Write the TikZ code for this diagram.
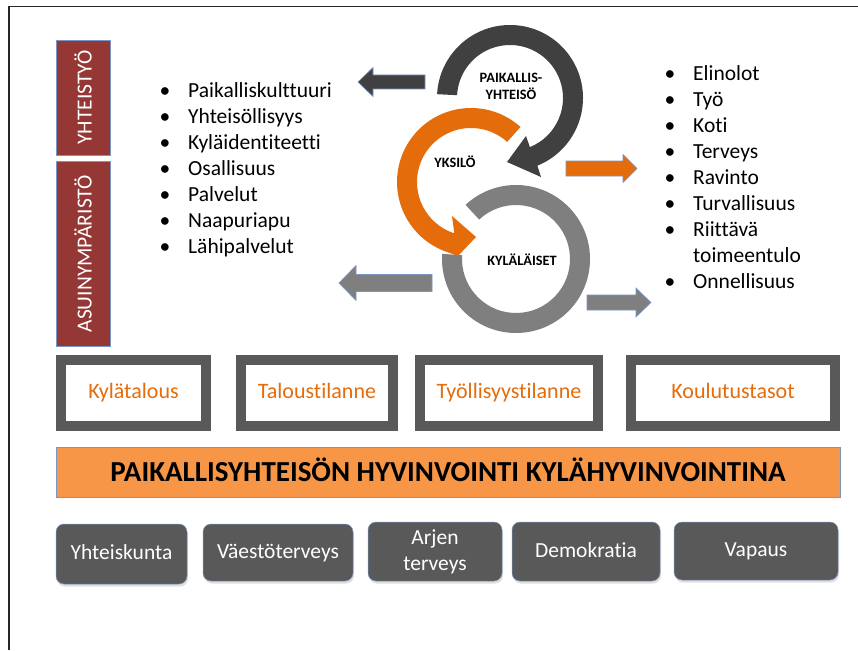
\documentclass[tikz,border=0pt]{standalone}
\usepackage{fontspec}
\setmainfont[Ligatures={NoCommon}]{Carlito}
\usetikzlibrary{shadows}
\definecolor{ringdark}{HTML}{404040}
\definecolor{ringorange}{HTML}{E46C0A}
\definecolor{ringgray}{HTML}{7F7F7F}
\definecolor{boxgray}{HTML}{595959}
\definecolor{barorange}{HTML}{F79646}
\definecolor{barred}{HTML}{953735}
\definecolor{edgeblue}{HTML}{7A96C4}
\begin{document}
\begin{tikzpicture}[x=1pt,y=-1pt,
  listtext/.style={anchor=base west, inner sep=0pt, font=\fontsize{21.5}{26}\selectfont},
  bulletmark/.style={anchor=base, inner sep=0pt, font=\fontsize{21.5}{26}\selectfont},
  redbar/.style={fill=barred, draw=edgeblue, line width=0.6pt, rotate=90, text=white,
    minimum height=54pt, inner sep=0pt, font=\fontsize{21.5}{26}\selectfont},
  framebox/.style={draw=boxgray, line width=10pt, fill=white, minimum height=66pt,
    text=ringorange, inner sep=0pt, text height=15pt, text depth=4pt,
    font=\fontsize{22}{26}\selectfont},
  roundbox/.style={fill=boxgray, draw=edgeblue, line width=0.5pt, rounded corners=8pt,
    text=white, align=center, inner sep=0pt, font=\fontsize{21.5}{26}\selectfont,
    drop shadow={shadow xshift=1pt, shadow yshift=-2.5pt, opacity=0.25}},
  onebox/.style={roundbox, text height=15pt, text depth=4pt},
  ringlabel/.style={font=\bfseries\fontsize{14.3}{17}\selectfont, align=center, inner sep=0pt},
  blockarrow/.style={draw=edgeblue, line width=0.6pt, line join=miter},
]
\useasboundingbox (0,0) rectangle (858,650);
\fill[white] (0,0) rectangle (858,650);

% frame
\draw[line width=1.2pt, black!85] (9,650) -- (9,6.5) -- (858,6.5);

% red bars
\node[redbar, minimum width=115pt] (yhteistyo) at (83,97.5) {YHTEISTYÖ};
\node[redbar, minimum width=185.5pt] (asuin) at (83,253.75) {ASUINYMPÄRISTÖ};

% left list
\foreach \txt [count=\i from 0] in {Paikalliskulttuuri, Yhteisöllisyys, Kyläidentiteetti, Osallisuus, Palvelut, Naapuriapu, Lähipalvelut} {
  \node[bulletmark] (lb\i) at (165, 97.7+26*\i) {•};
  \node[listtext] (lt\i) at (188, 97.7+26*\i) {\txt};
}

% right list
\foreach \txt [count=\i from 0] in {Elinolot, Työ, Koti, Terveys, Ravinto, Turvallisuus, Riittävä} {
  \node[bulletmark] (rb\i) at (670, 80.5+26*\i) {•};
  \node[listtext] (rt\i) at (693, 80.5+26*\i) {\txt};
}
\node[listtext] (rt7) at (693, 262.5) {toimeentulo};
\node[bulletmark] (rb8) at (670, 288.5) {•};
\node[listtext] (rt8) at (693, 288.5) {Onnellisuus};

% block arrows
\draw[blockarrow, fill=ringdark] (425,75) -- (373,75) -- (373,67.5) -- (358,82) -- (373,96.5) -- (373,89) -- (425,89) -- cycle;
\draw[blockarrow, fill=ringorange] (566,161) -- (623,161) -- (623,154.5) -- (637,168.5) -- (623,182.5) -- (623,176) -- (566,176) -- cycle;
\draw[blockarrow, fill=ringgray] (432,274.5) -- (356,274.5) -- (356,265.5) -- (339,283) -- (356,300.5) -- (356,291.5) -- (432,291.5) -- cycle;
\draw[blockarrow, fill=ringgray] (587,295) -- (636,295) -- (636,288) -- (651,302.5) -- (636,317) -- (636,310) -- (587,310) -- cycle;

% rings
\coordinate (G) at (516,259);
\coordinate (O) at (471,182);
\coordinate (D) at (510,98);
\fill[ringgray] ([shift={(G)}]-133:74) arc[start angle=-133, end angle=184, radius=74]
  -- ([shift={(G)}]184:54) arc[start angle=184, end angle=-133, radius=54] -- cycle;
\fill[ringorange] ([shift={(O)}]-48:74) arc[start angle=-48, end angle=-252, radius=74]
  -- (458,256) -- (476,237) -- (452,216) -- ([shift={(O)}]-252:54)
  arc[start angle=-252, end angle=-48, radius=54] -- cycle;
\fill[ringdark] ([shift={(D)}]-177:73) arc[start angle=-177, end angle=68, radius=73]
  -- (541,177) -- (507,162) -- (526,136) -- ([shift={(D)}]68:53)
  arc[start angle=68, end angle=-177, radius=53] -- cycle;

\node[ringlabel] (paik) at (511,86) {PAIKALLIS-\\YHTEISÖ};
\node[ringlabel] (yksilo) at (455,162) {YKSILÖ};
\node[ringlabel] (kylalaiset) at (522,260) {KYLÄLÄISET};

% framed boxes
\node[framebox, minimum width=145pt] (kylatalous) at (133.5,393) {Kylätalous};
\node[framebox, minimum width=151.5pt] (talous) at (317,393) {Taloustilanne};
\node[framebox, minimum width=178pt] (tyollisyys) at (509,393) {Työllisyystilanne};
\node[framebox, minimum width=204pt] (koulutus) at (733,393) {Koulutustasot};

% orange bar
\node[fill=barorange, draw=edgeblue, line width=0.6pt, minimum width=784pt, minimum height=50pt,
  inner sep=0pt, text height=19pt, text depth=0pt,
  font=\bfseries\fontsize{29}{33}\selectfont] (bar) at (448,472) {PAIKALLISYHTEISÖN HYVINVOINTI KYLÄHYVINVOINTINA};

% bottom boxes
\node[onebox, minimum width=131pt, minimum height=60pt] (yhteiskunta) at (121.5,554) {Yhteiskunta};
\node[onebox, minimum width=150pt, minimum height=57pt] (vaesto) at (278,552.5) {Väestöterveys};
\node[roundbox, minimum width=134pt, minimum height=59pt] (arjen) at (435,551.5) {Arjen\\terveys};
\node[onebox, minimum width=148pt, minimum height=59pt] (demokratia) at (586,551.5) {Demokratia};
\node[onebox, minimum width=164pt, minimum height=58pt] (vapaus) at (756,551) {Vapaus};
\end{tikzpicture}
\end{document}
